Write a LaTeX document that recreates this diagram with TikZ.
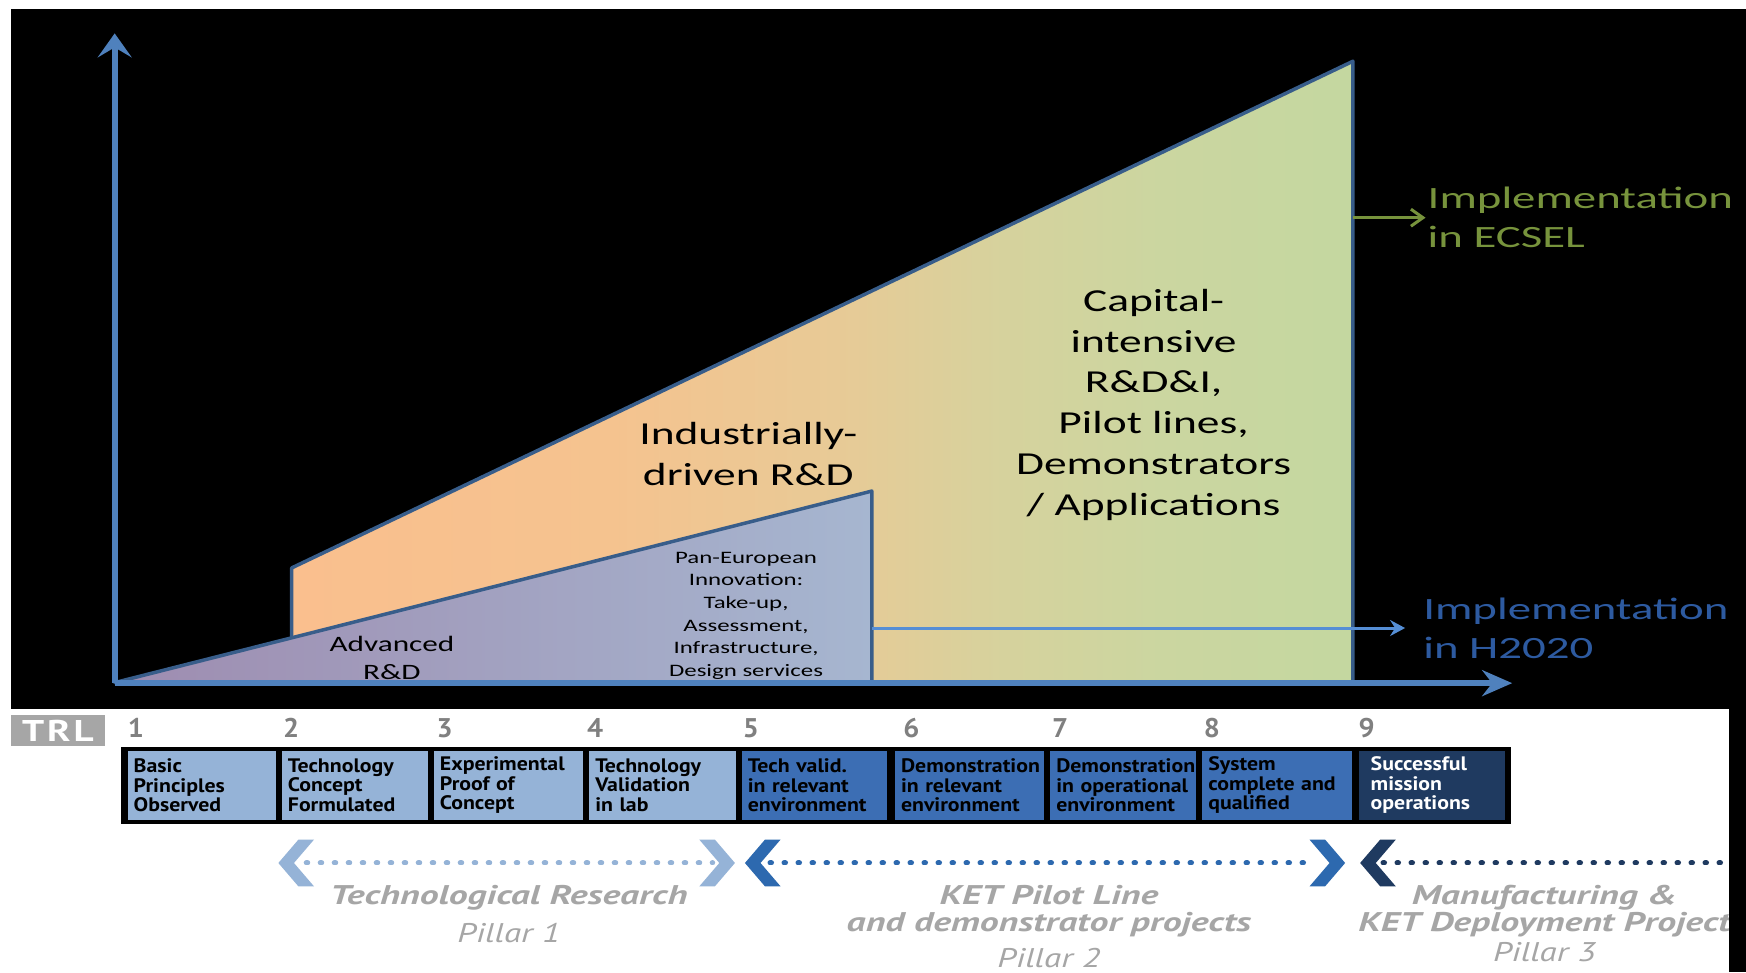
\documentclass[tikz,border=0pt]{standalone}
\usepackage{fontspec}
\usetikzlibrary{arrows.meta}
\newfontfamily\calib[FakeStretch=1.42]{Carlito}
\newfontfamily\calibw[FakeStretch=1.51]{Carlito}
\newfontfamily\boxf[FakeStretch=1.12]{PT Sans}
\newfontfamily\numf[FakeStretch=1.05]{PT Sans}
\newfontfamily\pillf[FakeStretch=1.4]{PT Sans}
\newfontfamily\pilln[FakeStretch=1.3]{PT Sans}
\newfontfamily\trlf[FakeStretch=1.3,LetterSpace=10]{PT Sans}
\newcommand\myNoHyph{\hyphenpenalty=10000\relax\exhyphenpenalty=10000\relax}
\definecolor{axisblue}{RGB}{79,129,189}
\definecolor{edgeblue}{RGB}{56,93,138}
\definecolor{hblue}{RGB}{85,142,213}
\definecolor{htext}{RGB}{45,90,160}
\definecolor{egreen}{RGB}{119,147,60}
\definecolor{or1}{RGB}{250,191,142}
\definecolor{or2}{RGB}{245,195,143}
\definecolor{or3}{RGB}{232,202,150}
\definecolor{gr1}{RGB}{214,210,157}
\definecolor{gr2}{RGB}{203,214,160}
\definecolor{gr3}{RGB}{196,215,160}
\definecolor{pu1}{RGB}{158,140,176}
\definecolor{pu2}{RGB}{160,162,192}
\definecolor{pu3}{RGB}{166,182,208}
\definecolor{lightb}{RGB}{149,179,215}
\definecolor{midb}{RGB}{60,110,180}
\definecolor{chevmid}{RGB}{45,105,175}
\definecolor{darkb}{RGB}{31,58,96}
\definecolor{trlgray}{RGB}{166,166,166}
\definecolor{numgray}{RGB}{128,128,128}
\pgfdeclarehorizontalshading{outershade}{100bp}{color(0bp)=(or1); color(25bp)=(or1); color(40bp)=(or2); color(50.6bp)=(or3); color(58.5bp)=(gr1); color(66bp)=(gr2); color(75bp)=(gr3); color(100bp)=(gr3)}
\begin{document}
\begin{tikzpicture}[x=1.1135pt,y=-1.1135pt,
  shapeedge/.style={draw=edgeblue,line width=3.5pt,line join=round},
  yaxis/.style={draw=axisblue,line width=6pt,-{Stealth[length=24pt,width=34pt,inset=10pt]}},
  xaxis/.style={draw=axisblue,line width=6pt,-{Stealth[length=30pt,width=26pt,inset=10pt]}},
  harrow/.style={draw=hblue,line width=3pt,-{Stealth[length=15pt,width=16pt,inset=5pt]},shorten >=18pt},
  earrow/.style={draw=egreen,line width=3pt,-{Straight Barb[length=12pt,width=17pt]},shorten >=2pt},
  bigtxt/.style={font=\calib\fontsize{32}{40.7}\selectfont,align=center,inner sep=0pt,text=black},
  midtxt/.style={font=\calib\fontsize{22}{27.8}\selectfont,align=center,inner sep=0pt,text=black},
  smalltxt/.style={font=\calib\fontsize{17.5}{22.7}\selectfont,align=center,inner sep=0pt,text=black},
  impl/.style={font=\calibw\fontsize{31}{39}\selectfont,align=left,inner sep=0pt,anchor=west},
  cell/.style={anchor=north west,minimum height=69pt,inner ysep=0pt,inner xsep=6pt,align=left,
    font=\boxf\bfseries\fontsize{19.5}{19.7}\selectfont\myNoHyph,text=black},
  num/.style={anchor=base west,inner sep=0pt,text=numgray,font=\numf\bfseries\fontsize{27}{27}\selectfont},
  pl/.style={font=\pillf\bfseries\itshape\fontsize{27}{26.7}\selectfont,text=trlgray,inner sep=0pt,align=center},
  pn/.style={font=\pilln\itshape\fontsize{27}{27}\selectfont,text=trlgray,inner sep=0pt},
  dots/.style={line width=5pt,line cap=round,dash pattern=on 1.5pt off 12.5pt},
  lchev/.pic={\fill (0,0) -- (18,-21) -- (32,-21) -- (14,0) -- (32,21) -- (18,21) -- cycle;},
  rchev/.pic={\fill (0,0) -- (-18,-21) -- (-32,-21) -- (-14,0) -- (-32,21) -- (-18,21) -- cycle;}
]
\useasboundingbox (0,0) rectangle (1568,873);
\fill[white] (0,0) rectangle (1568,873);
\fill[black] (10,8) rectangle (1568,637);

% chart shapes
\shadedraw[shading=outershade,shapeedge] (262,613) -- (262,510) -- (1215,55) -- (1215,613) -- cycle;
\shadedraw[left color=pu1,middle color=pu2,right color=pu3,shapeedge] (103,613) -- (783,441) -- (783,613) -- cycle;

% axes
\coordinate (O) at (103,613.5);
\coordinate (ytip) at (103,30);
\coordinate (xtip) at (1358,613.5);
\draw[yaxis] (O) -- (ytip);
\draw[xaxis] (O) -- (xtip);

% labels in chart
\node[bigtxt] (ind) at (672,407.5) {Industrially-\\driven R\&D};
\node[bigtxt] (cap) at (1036,363.5) {Capital-\\intensive\\R\&D\&I,\\Pilot lines,\\Demonstrators\\/ Applications};
\node[midtxt] (adv) at (352,590.5) {Advanced\\R\&D};
\node[smalltxt] (pan) at (670,553) {Pan-European\\Innovation:\\Take-up,\\Assessment,\\Infrastructure,\\Design services};
\node[impl,text=egreen] (ecsel) at (1282,195.5) {Implementation\\in ECSEL};
\node[impl,text=htext] (h2020) at (1278,564) {Implementation\\in H2020};

\coordinate (gr) at (1215,195.5);
\coordinate (pr) at (783,564);
\draw[earrow] (gr) -- (ecsel.west);
\draw[harrow] (pr) -- (h2020.west);

% TRL row
\node[fill=trlgray,text=white,font=\trlf\bfseries\fontsize{30}{30}\selectfont,minimum width=93.5pt,minimum height=31pt,inner sep=0pt] (trl) at (52,656) {TRL};
\node[num] (n1) at (114.6,662) {1};
\node[num] (n2) at (254,662) {2};
\node[num] (n3) at (392,662) {3};
\node[num] (n4) at (527,662) {4};
\node[num] (n5) at (667,662) {5};
\node[num] (n6) at (811,662) {6};
\node[num] (n7) at (944.6,662) {7};
\node[num] (n8) at (1081,662) {8};
\node[num] (n9) at (1220,662) {9};

\node[fill=black,anchor=north west,minimum width=1390pt,minimum height=77.4pt,inner sep=0pt] (frame) at (108.6,670.5) {};
\node[cell,fill=lightb,text width=136pt] (b1) at (114.5,674) {Basic\\Principles\\Observed};
\node[cell,fill=lightb,text width=133.9pt] (b2) at (253,674) {Technology\\Concept\\Formulated};
\node[cell,fill=lightb,text width=136.7pt] (b3) at (389.5,674) {Experimental\\Proof of\\Concept};
\node[cell,fill=lightb,text width=135pt] (b4) at (529,674) {Technology\\Validation\\in lab};
\node[cell,fill=midb,text width=132.8pt] (b5) at (666,674) {Tech valid.\\in relevant\\environment};
\node[cell,fill=midb,text width=136.5pt] (b6) at (803.6,674) {Demonstration\\in relevant\\environment};
\node[cell,fill=midb,text width=133.9pt] (b7) at (943,674) {Demonstration\\in operational\\environment};
\node[cell,fill=midb,text width=137.7pt] (b8) at (1079.6,674) {System\\complete and\\qualified};
\node[cell,fill=darkb,text=white,inner xsep=12pt,text width=122.3pt] (b9) at (1220,674) {Successful\\mission\\operations};

% pillar arrows
\pic[color=lightb] (c1l) at (250,775) {lchev};
\pic[color=lightb] (c1r) at (660,775) {rchev};
\pic[color=chevmid] (c2l) at (669,775) {lchev};
\pic[color=chevmid] (c2r) at (1208,775) {rchev};
\pic[color=darkb] (c3l) at (1221.5,775) {lchev};
\coordinate (d1a) at (275,775);
\coordinate (d1b) at (640,775);
\coordinate (d2a) at (691.5,775);
\coordinate (d2b) at (1180,775);
\coordinate (d3a) at (1242,775);
\coordinate (d3b) at (1548,775);
\draw[dots,lightb] (d1a) -- (d1b);
\draw[dots,chevmid] (d2a) -- (d2b);
\draw[dots,darkb] (d3a) -- (d3b);

\node[pl] (t1) at (457,806) {Technological Research};
\node[pn] (p1) at (457,838) {Pillar 1};
\node[pl] (t2) at (942,818) {KET Pilot Line\\and demonstrator projects};
\node[pn] (p2) at (942,860) {Pillar 2};
\node[pl] (t3) at (1387,818) {Manufacturing \&\\KET Deployment Project};
\node[pn] (p3) at (1387,855) {Pillar 3};

\fill[black] (1553,637) rectangle (1568,873);
\end{tikzpicture}
\end{document}
